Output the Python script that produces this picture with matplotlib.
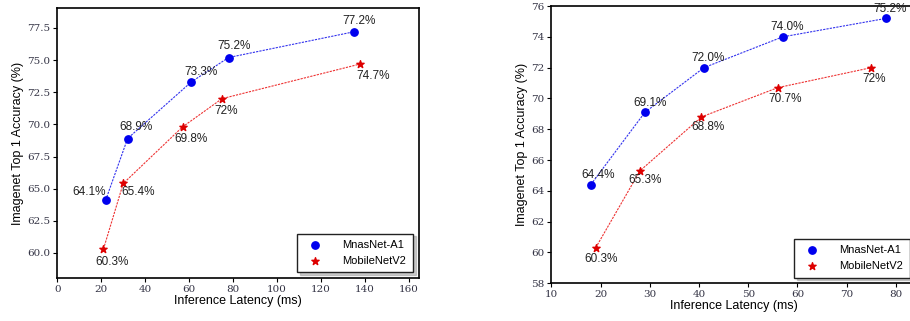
import matplotlib
matplotlib.use("Agg")
import matplotlib.pyplot as plt

# left panel
lat_a1_l = [22, 32, 61, 78, 135]
acc_a1_l = [64.1, 68.9, 73.3, 75.2, 77.2]
lat_mb_l = [21, 30, 57, 75, 138]
acc_mb_l = [60.3, 65.4, 69.8, 72.0, 74.7]
lbl_a1_l = ["64.1%", "68.9%", "73.3%", "75.2%", "77.2%"]
lbl_mb_l = ["60.3%", "65.4%", "69.8%", "72%", "74.7%"]

# right panel
lat_a1_r = [18, 29, 41, 57, 78]
acc_a1_r = [64.4, 69.1, 72.0, 74.0, 75.2]
lat_mb_r = [19, 28, 40.5, 56, 75]
acc_mb_r = [60.3, 65.3, 68.8, 70.7, 72.0]
lbl_a1_r = ["64.4%", "69.1%", "72.0%", "74.0%", "75.2%"]
lbl_mb_r = ["60.3%", "65.3%", "68.8%", "70.7%", "72%"]

plt.rcParams['font.family'] = ['Liberation Sans', 'DejaVu Sans']

fig = plt.figure(figsize=(9.1, 3.21), dpi=100)
ax1 = fig.add_axes([0.063, 0.134, 0.397, 0.841])
ax2 = fig.add_axes([0.606, 0.118, 0.40, 0.863])

ann = dict(fontsize=8.5, color='#222222')


def draw(ax, la, aa, lm, am, la_lbl, lm_lbl, off_a, off_m):
    ax.plot(la, aa, color='#3333ee', lw=0.8, ls=(0, (2, 1)), zorder=1)
    ax.plot(lm, am, color='#ee3333', lw=0.8, ls=(0, (2, 1)), zorder=1)
    ax.scatter(la, aa, color='#0000ee', marker='o', s=28, zorder=3, label='MnasNet-A1')
    ax.scatter(lm, am, color='#dd0000', marker='*', s=30, zorder=3, label='MobileNetV2')
    for x, y, t, o in zip(la, aa, la_lbl, off_a):
        ax.annotate(t, (x, y), xytext=o, textcoords='offset points', ha='center', va='center', **ann)
    for x, y, t, o in zip(lm, am, lm_lbl, off_m):
        ax.annotate(t, (x, y), xytext=o, textcoords='offset points', ha='center', va='center', **ann)
    ax.set_xlabel("Inference Latency (ms)", fontsize=9, labelpad=1)
    ax.set_ylabel("Imagenet Top 1 Accuracy (%)", fontsize=9, labelpad=2)
    ax.tick_params(length=3, width=0.8, pad=2)
    for s in ax.spines.values():
        s.set_linewidth(1.2)
    leg = ax.legend(loc='lower right', fontsize=8, shadow={'ox': 2, 'oy': -2, 'color': '#999999'},
                    fancybox=False, handletextpad=1.5, borderpad=0.6, framealpha=1)
    leg.get_frame().set_edgecolor('#222222')


draw(ax1, lat_a1_l, acc_a1_l, lat_mb_l, acc_mb_l, lbl_a1_l, lbl_mb_l,
     [(-12, 6), (6, 8), (7, 7), (4, 8), (4, 8)],
     [(6, -9), (11, -6), (6, -9), (3, -9), (9, -9)])
ax1.set_xlim(0, 164.5)
ax1.set_ylim(58.05, 79.05)
ax1.set_xticks(range(0, 161, 20))
ax1.set_yticks([60.0, 62.5, 65.0, 67.5, 70.0, 72.5, 75.0, 77.5])
ax1.set_yticklabels(["60.0", "62.5", "65.0", "67.5", "70.0", "72.5", "75.0", "77.5"])

draw(ax2, lat_a1_r, acc_a1_r, lat_mb_r, acc_mb_r, lbl_a1_r, lbl_mb_r,
     [(5, 7), (4, 7), (3, 7), (3, 7), (3, 7)],
     [(4, -8), (4, -7), (5, -7), (5, -8), (2, -8)])
ax2.set_xlim(10, 84)
ax2.set_ylim(58, 76)
ax2.set_xticks(range(10, 81, 10))
ax2.set_yticks(range(58, 77, 2))

for ax in (ax1, ax2):
    for lab in ax.get_xticklabels() + ax.get_yticklabels():
        lab.set_fontfamily('DejaVu Serif')
        lab.set_fontsize(7.5)
        lab.set_color('#333344')

fig.savefig("out.png", dpi=100)
